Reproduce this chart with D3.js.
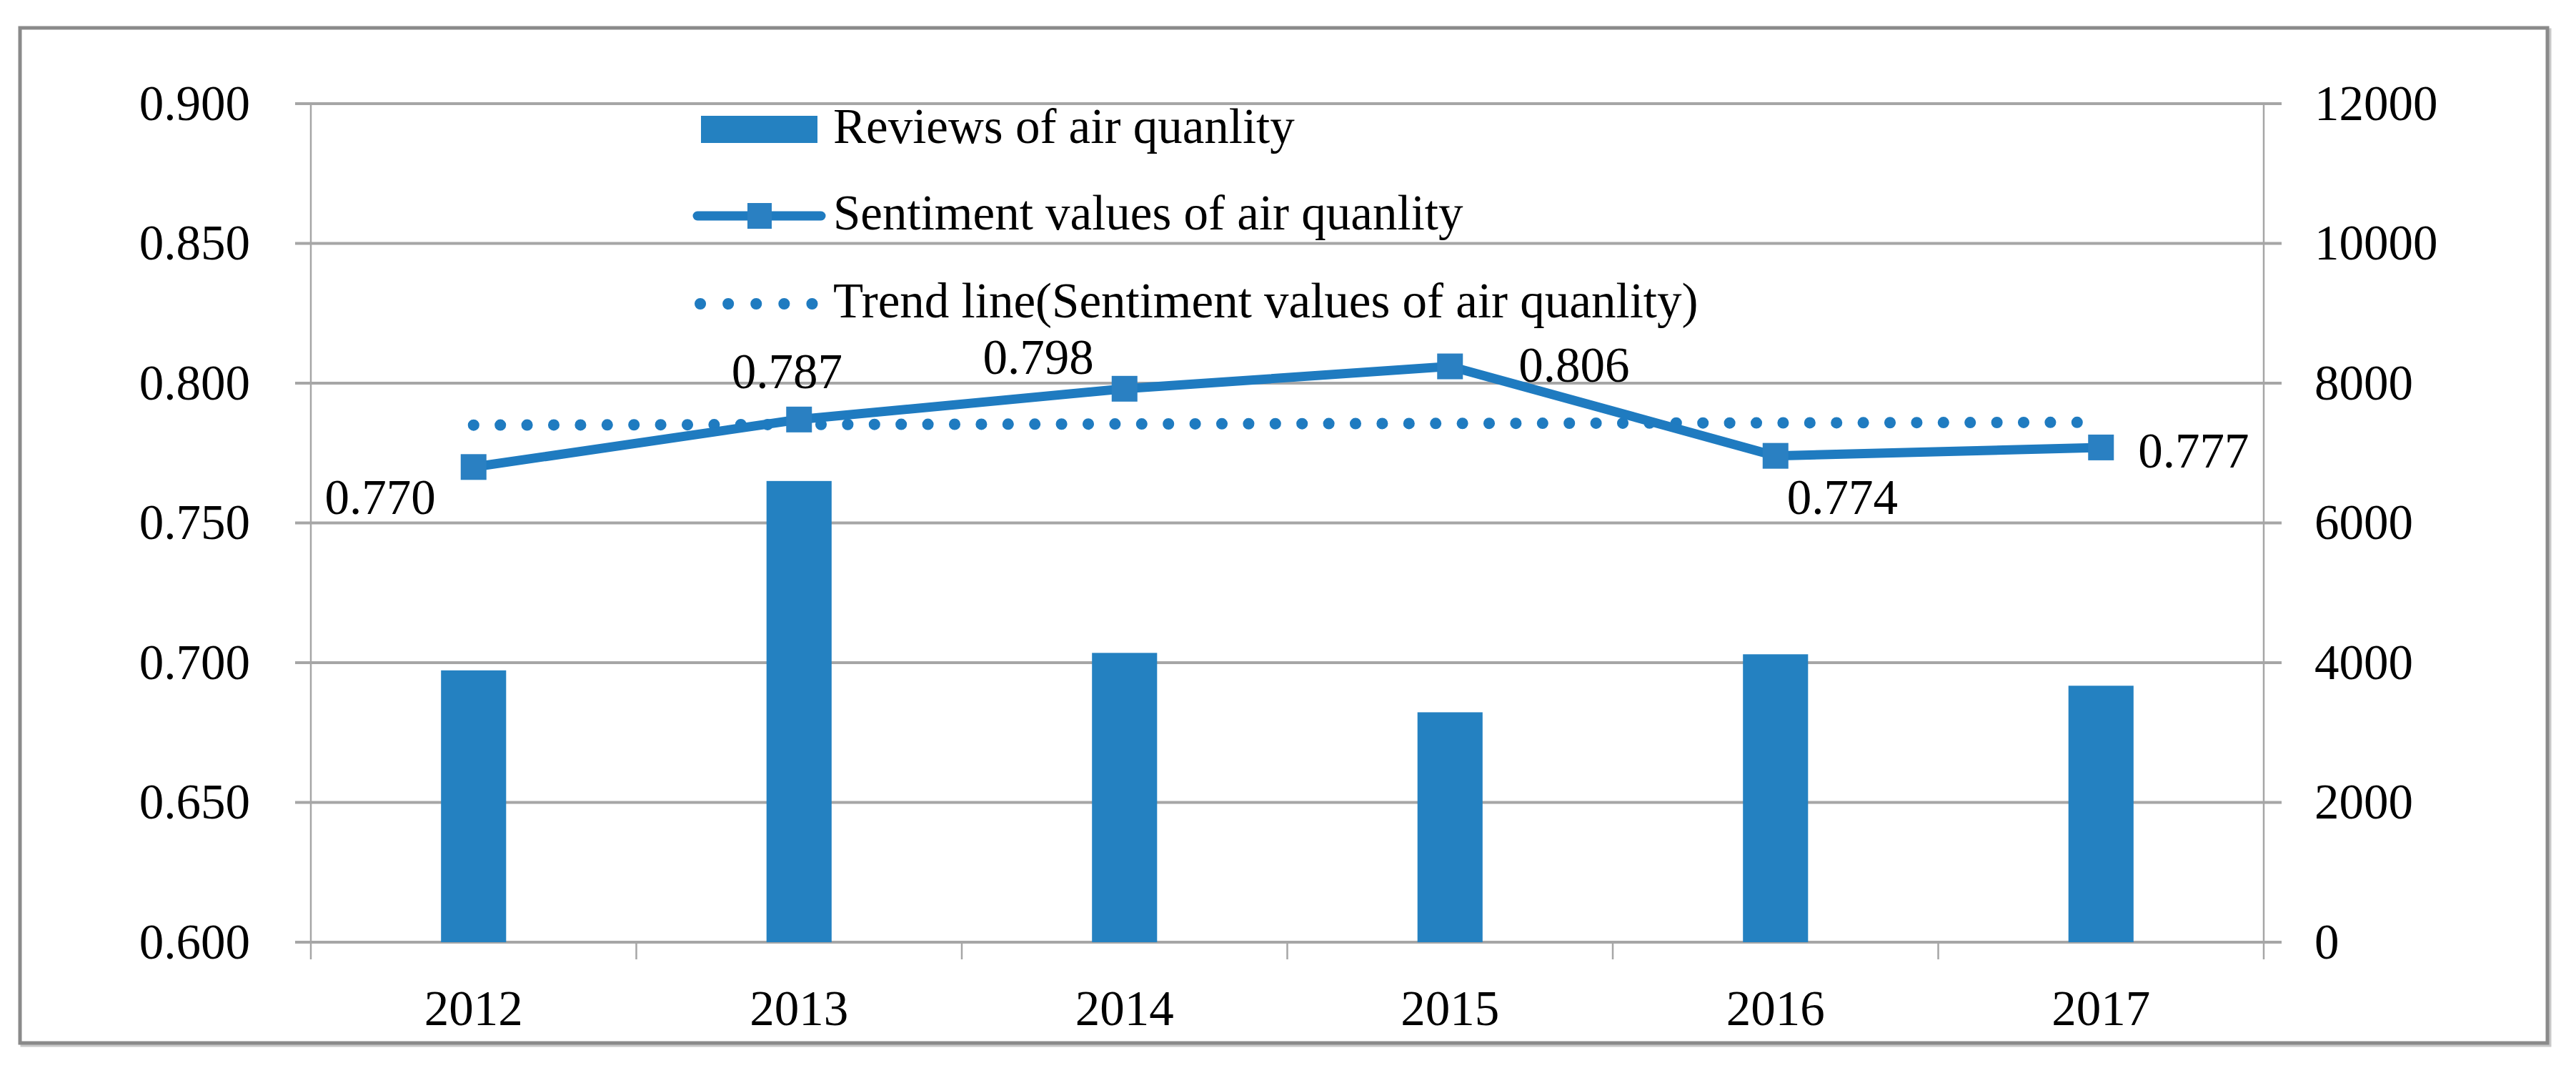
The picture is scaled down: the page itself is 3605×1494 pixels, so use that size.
<!DOCTYPE html>
<html>
<head>
<meta charset="utf-8">
<script src="https://cdn.jsdelivr.net/npm/d3@7"></script>
<style>
    body { margin: 0; background: #fff; }
    text { font-family: "Palatino Linotype", "Book Antiqua", Palatino, "Liberation Serif", serif; fill: #000; }
</style>
</head>
<body>
<script>
// values
let years = ['2012', '2013', '2014', '2015', '2016', '2017']
let reviews = [3890, 6600, 4140, 3290, 4120, 3670]
let sentiment = [0.770, 0.787, 0.798, 0.806, 0.774, 0.777]
let trend = [0.785, 0.786]   // trend line at first and last year
let left_ticks = [0.600, 0.650, 0.700, 0.750, 0.800, 0.850, 0.900]
let right_ticks = [0, 2000, 4000, 6000, 8000, 10000, 12000]
let legend_names = ['Reviews of air quanlity', 'Sentiment values of air quanlity',
    'Trend line(Sentiment values of air quanlity)']

// where each data label sits relative to its marker
let label_place = [
    {anchor: 'end', dx: -53, dy: 66},
    {anchor: 'middle', dx: -17, dy: -44},
    {anchor: 'end', dx: -43, dy: -21},
    {anchor: 'start', dx: 96, dy: 21},
    {anchor: 'start', dx: 16, dy: 81},
    {anchor: 'start', dx: 52, dy: 28},
]

const W = 3605, H = 1494
const blue = '#2481c1'
const line_blue = '#1f7bc0'
const grid = '#a6a6a6'
const fs = 69

let plot = {left: 435, right: 3168, top: 145, bottom: 1318}

let svg = d3.select('body').append('svg')
    .attr('width', W)
    .attr('height', H)

// outer frame (with a faint shadow)
svg.append('rect')
    .attr('x', 31).attr('y', 42)
    .attr('width', 3537).attr('height', 1420)
    .attr('fill', 'none')
    .attr('stroke', '#c8c8c8')
    .attr('stroke-width', 5)
svg.append('rect')
    .attr('x', 28).attr('y', 39)
    .attr('width', 3537).attr('height', 1420)
    .attr('fill', '#fff')
    .attr('stroke', '#8a8a8a')
    .attr('stroke-width', 5)

let x = d3.scaleBand().domain(years).range([plot.left, plot.right]).paddingInner(0).paddingOuter(0)
let y_left = d3.scaleLinear().domain([0.6, 0.9]).range([plot.bottom, plot.top])
let y_right = d3.scaleLinear().domain([0, 12000]).range([plot.bottom, plot.top])
let cx = d => x(d) + x.bandwidth() / 2

// gridlines (they stick out past both axes like ticks)
svg.append('g')
    .selectAll('line')
    .data(left_ticks)
    .enter().append('line')
    .attr('x1', plot.left - 22)
    .attr('x2', plot.right + 25)
    .attr('y1', d => y_left(d))
    .attr('y2', d => y_left(d))
    .attr('stroke', grid)
    .attr('stroke-width', 4)

// vertical axis lines + category ticks
let tick_x = years.map(d => x(d)).concat([plot.right])
svg.append('g')
    .selectAll('line')
    .data(tick_x)
    .enter().append('line')
    .attr('x1', d => d).attr('x2', d => d)
    .attr('y1', (d, i) => (i === 0 || i === tick_x.length - 1) ? plot.top : plot.bottom)
    .attr('y2', plot.bottom + 24)
    .attr('stroke', grid)
    .attr('stroke-width', 2.5)

// bars
let bw = x.bandwidth() * 0.2
svg.append('g')
    .selectAll('rect')
    .data(years)
    .enter().append('rect')
    .attr('x', d => cx(d) - bw / 2)
    .attr('y', (d, i) => y_right(reviews[i]))
    .attr('width', bw)
    .attr('height', (d, i) => plot.bottom - y_right(reviews[i]))
    .attr('fill', blue)

// trend line (dotted)
svg.append('line')
    .attr('x1', cx(years[0]))
    .attr('x2', cx(years[years.length - 1]))
    .attr('y1', y_left(trend[0]))
    .attr('y2', y_left(trend[1]))
    .attr('stroke', line_blue)
    .attr('stroke-width', 16)
    .attr('stroke-linecap', 'round')
    .attr('stroke-dasharray', '0.1 37.3')

// sentiment line
let line = d3.line()
    .x((d, i) => cx(years[i]))
    .y(d => y_left(d))

svg.append('path')
    .datum(sentiment)
    .attr('d', line)
    .attr('fill', 'none')
    .attr('stroke', line_blue)
    .attr('stroke-width', 13)

let ms = 36
svg.append('g')
    .selectAll('rect')
    .data(sentiment)
    .enter().append('rect')
    .attr('x', (d, i) => cx(years[i]) - ms / 2)
    .attr('y', d => y_left(d) - ms / 2)
    .attr('width', ms)
    .attr('height', ms)
    .attr('fill', '#2a80c2')

// data labels
svg.append('g')
    .selectAll('text')
    .data(sentiment)
    .enter().append('text')
    .attr('x', (d, i) => cx(years[i]) + label_place[i].dx)
    .attr('y', (d, i) => y_left(d) + label_place[i].dy)
    .attr('text-anchor', (d, i) => label_place[i].anchor)
    .style('font-size', `${fs}px`)
    .text(d => d3.format('.3f')(d))

// axes (text only)
let ax_left = svg.append('g')
    .attr('transform', `translate(${plot.left},0)`)
    .call(d3.axisLeft(y_left).tickValues(left_ticks).tickFormat(d3.format('.3f')).tickSize(0).tickPadding(85))
let ax_right = svg.append('g')
    .attr('transform', `translate(${plot.right},0)`)
    .call(d3.axisRight(y_right).tickValues(right_ticks).tickFormat(d3.format('d')).tickSize(0).tickPadding(71))
let ax_bottom = svg.append('g')
    .attr('transform', `translate(0,${plot.bottom})`)
    .call(d3.axisBottom(x).tickSize(0).tickPadding(67))

;[ax_left, ax_right, ax_bottom].forEach(a => {
    a.select('.domain').remove()
    a.selectAll('text')
        .style('font-size', `${fs}px`)
        .style('font-family', '"Palatino Linotype", "Book Antiqua", Palatino, "Liberation Serif", serif')
        .attr('fill', '#000')
})

// legend
let lg = svg.append('g')
let lx = 981, text_x = 1166
let rows = [181, 302, 425]

lg.append('rect')
    .attr('x', lx).attr('y', rows[0] - 19)
    .attr('width', 163).attr('height', 38)
    .attr('fill', blue)

lg.append('line')
    .attr('x1', 976).attr('x2', 1149)
    .attr('y1', rows[1]).attr('y2', rows[1])
    .attr('stroke', line_blue)
    .attr('stroke-width', 13)
    .attr('stroke-linecap', 'round')
lg.append('rect')
    .attr('x', 1063 - 17).attr('y', rows[1] - 18)
    .attr('width', 34).attr('height', 36)
    .attr('fill', '#2a80c2')

lg.append('line')
    .attr('x1', 980).attr('x2', 1137)
    .attr('y1', rows[2]).attr('y2', rows[2])
    .attr('stroke', line_blue)
    .attr('stroke-width', 16)
    .attr('stroke-linecap', 'round')
    .attr('stroke-dasharray', '0.1 39')

lg.selectAll('.lg-text')
    .data(legend_names)
    .enter().append('text')
    .attr('class', 'lg-text')
    .attr('x', text_x)
    .attr('y', (d, i) => rows[i] + 19)
    .style('font-size', `${fs}px`)
    .text(d => d)
</script>
</body>
</html>
